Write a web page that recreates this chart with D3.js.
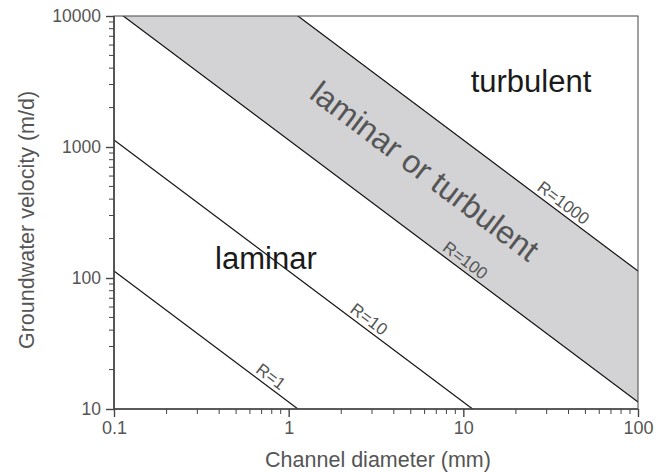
<!DOCTYPE html>
<html>
<head>
<meta charset="utf-8">
<script src="https://cdn.jsdelivr.net/npm/d3@7"></script>
<style>
  body { margin: 0; background: #fff; }
  text { font-family: "Liberation Sans", Arial, sans-serif; }
</style>
</head>
<body>
<div id="chart"></div>
<script>
// Reynolds number lines: v = K * R / d
const reynolds = [1, 10, 100, 1000];
const lineConst = 11.3;
const xTicks = [0.1, 1, 10, 100];
const yTicks = [10, 100, 1000, 10000];
// where each R label sits along its line (channel diameter, mm)
const labelAt = [0.733, 2.67, 9.5, 34.6];
const regionNames = ["laminar", "turbulent", "laminar or turbulent"];
// region label anchors [diameter, velocity]
const regionAt = [[0.741, 117], [24.4, 2630], [6.04, 660]];

const width = 666, height = 473;
const margin = {top: 16, right: 28, bottom: 64, left: 114};

const svg = d3.select("#chart").append("svg")
    .attr("width", width)
    .attr("height", height);

const x = d3.scaleLog().domain([0.1, 100]).range([margin.left, width - margin.right]);
const y = d3.scaleLog().domain([10, 10000]).range([height - margin.bottom, margin.top]);

const vel = (R, d) => lineConst * R / d;

svg.append("clipPath").attr("id", "plot")
  .append("rect")
    .attr("x", margin.left).attr("y", margin.top)
    .attr("width", width - margin.left - margin.right)
    .attr("height", height - margin.top - margin.bottom);

const plot = svg.append("g").attr("clip-path", "url(#plot)");

// shaded transition zone between R=100 and R=1000
const dLo = 0.01, dHi = 1000;
plot.append("path")
    .attr("d", d3.line()([
      [x(dLo), y(vel(100, dLo))],
      [x(dHi), y(vel(100, dHi))],
      [x(dHi), y(vel(1000, dHi))],
      [x(dLo), y(vel(1000, dLo))]
    ]) + "Z")
    .attr("fill", "#d3d3d5");

plot.selectAll("line.r")
  .data(reynolds)
  .enter().append("line")
    .attr("class", "r")
    .attr("x1", x(dLo)).attr("y1", R => y(vel(R, dLo)))
    .attr("x2", x(dHi)).attr("y2", R => y(vel(R, dHi)))
    .attr("stroke", "#111")
    .attr("stroke-width", 1.2);

// slope angle of the lines on screen
const ang = Math.atan2(y(vel(1, 10)) - y(vel(1, 1)), x(10) - x(1)) * 180 / Math.PI;

svg.selectAll("text.rlab")
  .data(reynolds)
  .enter().append("text")
    .attr("class", "rlab")
    .attr("transform", (R, i) => {
      const d = labelAt[i];
      return "translate(" + x(d) + "," + y(vel(R, d)) + ") rotate(" + ang + ")";
    })
    .attr("y", -4)
    .attr("text-anchor", "middle")
    .attr("font-size", 17)
    .attr("fill", "#555")
    .text(R => "R=" + R);

// region labels
svg.append("text")
    .attr("x", x(regionAt[0][0])).attr("y", y(regionAt[0][1]))
    .attr("text-anchor", "middle")
    .attr("font-size", 31)
    .attr("fill", "#1a1a1a")
    .text(regionNames[0]);

svg.append("text")
    .attr("x", x(regionAt[1][0])).attr("y", y(regionAt[1][1]))
    .attr("text-anchor", "middle")
    .attr("font-size", 31)
    .attr("fill", "#1a1a1a")
    .text(regionNames[1]);

svg.append("text")
    .attr("transform", "translate(" + x(regionAt[2][0]) + "," + y(regionAt[2][1]) + ") rotate(" + ang + ")")
    .attr("dy", "0.36em")
    .attr("text-anchor", "middle")
    .attr("font-size", 32)
    .attr("fill", "#555")
    .text(regionNames[2]);

// frame
svg.append("rect")
    .attr("x", margin.left).attr("y", margin.top)
    .attr("width", width - margin.left - margin.right)
    .attr("height", height - margin.top - margin.bottom)
    .attr("fill", "none")
    .attr("stroke", "#555")
    .attr("stroke-width", 1.1);
svg.append("path")
    .attr("d", "M" + margin.left + "," + margin.top + "V" + (height - margin.bottom) + "H" + (width - margin.right))
    .attr("fill", "none")
    .attr("stroke", "#444")
    .attr("stroke-width", 1.6);

// minor ticks
const minorX = [];
for (let p = 0.1; p < 99; p *= 10) for (let k = 2; k <= 9; k++) minorX.push(p * k);
const minorY = [];
for (let p = 10; p < 9999; p *= 10) for (let k = 2; k <= 9; k++) minorY.push(p * k);

const xAxis = svg.append("g")
    .attr("transform", "translate(0," + (height - margin.bottom) + ")");
xAxis.selectAll("line.minor")
  .data(minorX)
  .enter().append("line")
    .attr("x1", d => x(d)).attr("x2", d => x(d))
    .attr("y1", 0).attr("y2", 5)
    .attr("stroke", "#444");
xAxis.call(d3.axisBottom(x).tickValues(xTicks).tickFormat(d3.format("")).tickSize(8).tickPadding(4))
    .call(g => g.select(".domain").remove())
    .call(g => g.selectAll(".tick line").attr("stroke", "#444").attr("stroke-width", 1.4))
    .call(g => g.selectAll(".tick text").attr("font-size", 18).attr("fill", "#555")
        .attr("font-family", "Liberation Sans, Arial, sans-serif"));

const yAxis = svg.append("g")
    .attr("transform", "translate(" + margin.left + ",0)");
yAxis.selectAll("line.minor")
  .data(minorY)
  .enter().append("line")
    .attr("y1", d => y(d)).attr("y2", d => y(d))
    .attr("x1", 0).attr("x2", -5)
    .attr("stroke", "#444");
yAxis.call(d3.axisLeft(y).tickValues(yTicks).tickFormat(d3.format("")).tickSize(8).tickPadding(5))
    .call(g => g.select(".domain").remove())
    .call(g => g.selectAll(".tick line").attr("stroke", "#444").attr("stroke-width", 1.4))
    .call(g => g.selectAll(".tick text").attr("font-size", 17.5).attr("fill", "#555")
        .attr("font-family", "Liberation Sans, Arial, sans-serif"));

// axis titles
svg.append("text")
    .attr("x", 378)
    .attr("y", 467)
    .attr("text-anchor", "middle")
    .attr("font-size", 21.5)
    .attr("fill", "#555")
    .text("Channel diameter (mm)");

svg.append("text")
    .attr("transform", "translate(34,220) rotate(-90)")
    .attr("text-anchor", "middle")
    .attr("font-size", 21.5)
    .attr("fill", "#555")
    .text("Groundwater velocity (m/d)");
</script>
</body>
</html>
